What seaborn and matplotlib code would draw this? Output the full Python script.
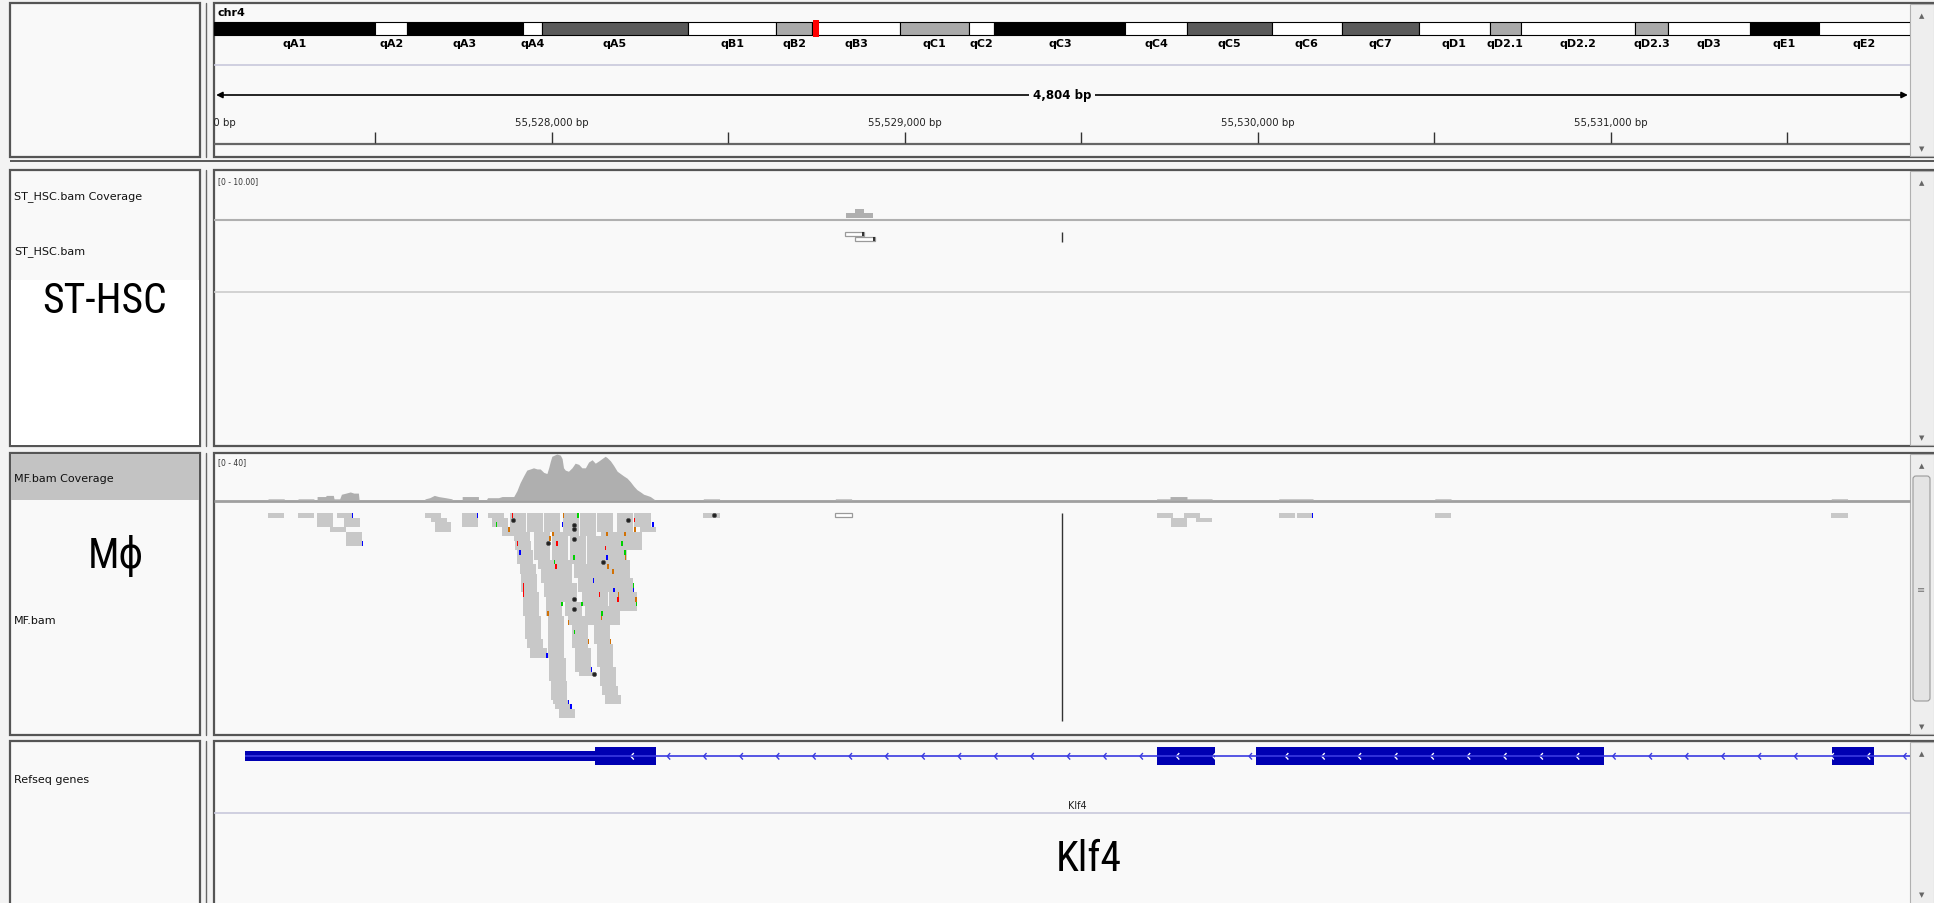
import numpy as np
import pandas as pd
import matplotlib
matplotlib.use("Agg")
import matplotlib.pyplot as plt
from matplotlib.patches import Rectangle, FancyBboxPatch
from matplotlib.path import Path
import seaborn as sns

sns.set_theme(style="white")
plt.rcParams["font.family"] = ["DejaVu Sans"]
plt.rcParams["text.color"] = "black"

W, H = 1934, 904

# visible locus chr4:55,527,044-55,531,848
view_start = 55527044
view_end = 55531848

# chr4 ideogram, band starts in Mb
band_names = ["qA1", "qA2", "qA3", "qA4", "qA5", "qB1", "qB2", "qB3", "qC1", "qC2", "qC3",
              "qC4", "qC5", "qC6", "qC7", "qD1", "qD2.1", "qD2.2", "qD2.3", "qD3", "qE1", "qE2"]
band_start = [0, 14.9, 17.8, 28.5, 30.3, 43.7, 51.9, 55.2, 63.3, 69.7, 72.0,
              84.1, 89.8, 97.6, 104.1, 111.2, 117.7, 120.6, 131.1, 134.2, 141.7, 148.1]
band_stain = ["black", "white", "black", "white", "dark", "white", "light", "white", "light", "white", "black",
              "white", "dark", "white", "dark", "white", "light", "white", "light", "white", "black", "white"]
chrom_len = 156.5

major_ticks = [55527000, 55528000, 55529000, 55530000, 55531000]
minor_ticks = [55527500, 55528500, 55529500, 55530500, 55531500]

# coverage tracks
st_cov_bp = [55528833, 55528833, 55528859, 55528859, 55528885, 55528885, 55528911, 55528911]
st_cov_depth = [0, 1, 1, 2, 2, 1, 1, 0]

mf_cov_bp = [55527197, 55527197, 55527243, 55527243,
             55527282, 55527282, 55527327, 55527327,
             55527336, 55527336, 55527360, 55527362, 55527382, 55527384, 55527400, 55527405,
             55527418, 55527430, 55527440, 55527453, 55527455,
             55527640, 55527642, 55527655, 55527668, 55527680, 55527700, 55527718, 55527720,
             55527747, 55527747, 55527793, 55527793,
             55527815, 55527819, 55527850, 55527860, 55527880,
             55527893, 55527902, 55527911, 55527921, 55527930, 55527940, 55527949, 55527959,
             55527968, 55527978, 55527987, 55527992, 55527997, 55528001, 55528008, 55528015,
             55528025, 55528030, 55528034, 55528039, 55528048, 55528058, 55528067, 55528077,
             55528086, 55528096, 55528105, 55528115, 55528124, 55528134, 55528143, 55528152,
             55528157, 55528167, 55528176, 55528186, 55528195, 55528204, 55528214, 55528223,
             55528233, 55528242, 55528252, 55528261, 55528271, 55528280, 55528289, 55528294,
             55528430, 55528430, 55528476, 55528476,
             55528804, 55528804, 55528850, 55528850,
             55529714, 55529714, 55529752, 55529752, 55529800, 55529800, 55529871, 55529871,
             55530060, 55530060, 55530157, 55530157,
             55530502, 55530502, 55530548, 55530548,
             55531625, 55531625, 55531671, 55531671]
mf_cov_depth = [0, 1, 1, 0,
                0, 1, 1, 0,
                0, 3, 3, 4, 4, 1, 1, 5,
                6, 7, 6, 6, 0,
                0, 1, 2, 4, 3, 2, 1, 0,
                0, 3, 3, 0,
                0, 2, 2, 3, 3,
                3, 8, 15, 21, 26, 27, 28, 27,
                27, 24, 23, 28, 34, 38, 39, 40,
                39, 36, 28, 26, 25, 28, 32, 31,
                28, 28, 33, 35, 32, 34, 36, 38,
                37, 34, 30, 25, 23, 21, 19, 16,
                12, 9, 7, 5, 4, 3, 1, 0,
                0, 1, 1, 0,
                0, 1, 1, 0,
                0, 1, 1, 3, 3, 1, 1, 0,
                0, 1, 1, 0,
                0, 1, 1, 0,
                0, 1, 1, 0]

# MF reads: blocks of stacked reads sharing a start (start bp, first row, number of rows)
mf_read_start = [55527197, 55527282, 55527336, 55527373, 55527393, 55527412, 55527418,
                 55527642, 55527659, 55527670, 55527747,
                 55527819, 55527831, 55527859,
                 55527883, 55527893, 55527897, 55527902, 55527910, 55527913, 55527918, 55527924, 55527930, 55527940,
                 55527930, 55527949, 55527963, 55527970, 55527978, 55527985, 55527990, 55527994, 55527998, 55528004, 55528011, 55528020,
                 55527978, 55528001, 55528011, 55528025, 55528039, 55528048, 55528058, 55528067, 55528079,
                 55528032, 55528051, 55528063, 55528074, 55528086, 55528096,
                 55528080, 55528100, 55528110, 55528115, 55528119, 55528129, 55528136, 55528143, 55528152,
                 55528129, 55528140, 55528150, 55528157, 55528162, 55528148,
                 55528185, 55528167, 55528176, 55528185, 55528195,
                 55528235, 55528250, 55528211,
                 55528430,
                 55529714, 55529754, 55529791, 55529825, 55530060, 55530111, 55530502, 55531625]
mf_read_row = [0, 0, 0, 3, 0, 1, 4,
               0, 1, 2, 0,
               0, 1, 3,
               0, 4, 6, 8, 11, 13, 17, 22, 27, 29,
               0, 4, 10, 12, 15, 18, 22, 31, 36, 40, 41, 42,
               0, 4, 10, 15, 19, 22, 24, 29, 34,
               0, 5, 11, 14, 17, 20,
               0, 5, 11, 14, 24, 28, 33, 37, 39,
               0, 4, 10, 13, 17, 20,
               0, 4, 10, 14, 17,
               0, 3, 4,
               0,
               0, 1, 0, 1, 0, 0, 0, 0]
mf_read_n = [1, 1, 3, 1, 1, 2, 3,
             1, 1, 2, 3,
             1, 2, 2,
             4, 2, 2, 3, 2, 4, 5, 5, 2, 2,
             4, 6, 2, 3, 3, 4, 9, 5, 4, 1, 1, 2,
             4, 6, 5, 4, 3, 2, 5, 5, 1,
             5, 6, 3, 3, 3, 4,
             5, 6, 3, 10, 4, 5, 4, 2, 2,
             4, 6, 3, 4, 3, 4,
             4, 6, 4, 3, 4,
             3, 1, 4,
             1,
             1, 2, 1, 1, 1, 1, 1, 1]
mf_read_len = 46
mf_mq0_start = [55528804]

st_read_start = [55528830, 55528861]
st_read_row = [0, 1]
st_read_len = 55

# mismatches on MF reads (bp, row, base) and insertion dots
mm_bp = [55527888, 55527843, 55527878, 55528032, 55528073, 55528029, 55528233, 55528286, 55528234,
         55528002, 55527994, 55528013, 55527902, 55527909, 55528198, 55528155, 55528206, 55528151,
         55528206, 55528207, 55528062, 55528155, 55528006, 55528011, 55528158, 55528172, 55528117,
         55527919, 55527919, 55527919, 55528231, 55528230, 55528175, 55528134, 55528188, 55528186,
         55528237, 55528239, 55528028, 55528084, 55527988, 55528141, 55528140, 55528046, 55528063,
         55528103, 55528165, 55527985, 55528111, 55528046, 55528053, 55527435, 55527462, 55527789,
         55530154]
mm_row = [0, 2, 3, 0, 0, 2, 1, 2, 3,
          4, 5, 6, 6, 8, 6, 4, 4, 7,
          8, 9, 9, 9, 10, 11, 11, 12, 14,
          15, 16, 17, 15, 16, 16, 17, 17, 18,
          18, 19, 19, 19, 21, 21, 22, 23, 25,
          27, 27, 30, 33, 40, 41, 0, 6, 0,
          0]
mm_base = ["T", "A", "G", "G", "A", "C", "T", "C", "G",
           "G", "G", "T", "T", "C", "A", "G", "G", "T",
           "A", "G", "A", "C", "A", "T", "G", "G", "C",
           "T", "T", "T", "A", "C", "C", "T", "G", "T",
           "G", "A", "A", "A", "G", "A", "G", "G", "A",
           "G", "G", "C", "C", "C", "C", "C", "C", "C",
           "C"]
ins_bp = [55527890, 55528064, 55528065, 55528064, 55527990, 55528216, 55528145, 55528063, 55528065, 55528119, 55528459]
ins_row = [1, 2, 3, 5, 6, 1, 10, 18, 20, 34, 0]

marker_bp = 55529445

# Refseq gene (minus strand)
gene_name = "Klf4"
gene_start, gene_end = 55527133, 55532466
utr_start, utr_end = 55527133, 55528123
exon_start = [55528123, 55529716, 55529996, 55531627]
exon_end = [55528296, 55529880, 55530982, 55531746]

base_colors = {"A": "#00d000", "C": "#0000ff", "G": "#d17105", "T": "#ff0000"}
stain_colors = {"black": "#000000", "white": "#ffffff", "dark": "#5a5a5a", "light": "#a9a9a9"}
bg = "#f9f9f9"

fig = plt.figure(figsize=(W / 100, H / 100), dpi=100)
fig.patch.set_facecolor("#f3f3f3")


def px_axes(x0, y0, x1, y1):
    ax = fig.add_axes([x0 / W, 1 - y1 / H, (x1 - x0) / W, (y1 - y0) / H])
    ax.set_axis_off()
    return ax


# ---- frame / panels ----
canvas = px_axes(0, 0, W, H)
canvas.set_xlim(0, W)
canvas.set_ylim(H, 0)

panels = [(4, 158), (171, 447), (454, 736), (742, 910)]
for y0, y1 in panels:
    canvas.add_patch(Rectangle((10, y0), 190, y1 - y0, fc=bg, ec="#555555", lw=1.6))
    canvas.add_patch(Rectangle((214, y0), 1722, y1 - y0, fc=bg, ec="#555555", lw=1.6))
    canvas.plot([206, 206], [y0, y1], color="#666666", lw=1)
    canvas.add_patch(Rectangle((1910, y0 + 1), 24, y1 - y0 - 2, fc="#eeeeee", ec="#b0b0b0", lw=0.8))
    canvas.text(1922, y0 + 12, "▲", ha="center", va="center", fontsize=5, color="#666666")
    canvas.text(1922, min(y1, 904) - 9, "▼", ha="center", va="center", fontsize=5, color="#666666")
canvas.hlines(161.5, 10, 1934, color="#555555", lw=1.4)

canvas.add_patch(Rectangle((11, 281), 188, 165, fc="white", ec="none"))
canvas.add_patch(Rectangle((11, 455), 188, 46, fc="#c3c3c3", ec="none"))
canvas.add_patch(FancyBboxPatch((1913, 477), 17, 225, boxstyle="round,pad=0,rounding_size=3",
                                fc="#e4e4e4", ec="#9a9a9a", lw=0.8))
canvas.text(1921.5, 590, "≡", ha="center", va="center", fontsize=7, color="#777777")

canvas.hlines(66, 214, 1910, color="#c8c8dc", lw=1.2)
canvas.hlines(145, 214, 1910, color="#666666", lw=1.6)
canvas.hlines(221, 214, 1910, color="#b0b0b0", lw=1.5)
canvas.hlines(293, 214, 1910, color="#cccccc", lw=1.2)
canvas.hlines(502, 214, 1910, color="#a0a0a0", lw=2)
canvas.hlines(814, 214, 1910, color="#c8c8dc", lw=1.2)

name_font = dict(fontsize=8, color="#111111", va="center")
canvas.text(14, 197, "ST_HSC.bam Coverage", **name_font)
canvas.text(14, 252, "ST_HSC.bam", **name_font)
canvas.text(14, 479, "MF.bam Coverage", **name_font)
canvas.text(14, 621, "MF.bam", **name_font)
canvas.text(14, 780, "Refseq genes", **name_font)
canvas.text(218, 182, "[0 - 10.00]", fontsize=5.5, color="#333333", va="center")
canvas.text(218, 463, "[0 - 40]", fontsize=5.5, color="#333333", va="center")
canvas.text(217, 13, "chr4", fontsize=8, fontweight="bold", va="center")

big_font = ["Roboto Condensed", "Roboto", "DejaVu Sans"]
big_kw = dict(ha="center", va="center", fontsize=30, family=big_font, color="black", fontstretch="condensed")
canvas.text(105, 302, "ST-HSC", **big_kw)
canvas.text(116, 556, "Mϕ", **big_kw)
canvas.text(1089, 860, "Klf4", **big_kw)

# ---- ideogram ----
ideo = px_axes(214, 16, 1910, 52)
ideo.set_xlim(0, chrom_len)
ideo.set_ylim(52, 16)
band_end = band_start[1:] + [chrom_len]
bands = pd.DataFrame({"name": band_names, "start": band_start, "end": band_end, "stain": band_stain})
ideo.bar(bands["start"], 13, width=bands["end"] - bands["start"], bottom=23, align="edge",
         color=[stain_colors[s] for s in bands["stain"]], edgecolor="black", linewidth=0.8)
for _, b in bands.iterrows():
    ideo.text((b["start"] + b["end"]) / 2, 44, b["name"], ha="center", va="center",
              fontsize=8, fontweight="bold", color="black")
locus_mb = (view_start + view_end) / 2 / 1e6
ideo.bar([locus_mb], 17, width=0.55, bottom=21, color="#ff0000", linewidth=0)

# ---- ruler ----
ruler = px_axes(214, 60, 1910, 146)
ruler.set_xlim(view_start, view_end)
ruler.set_ylim(146, 60)
ruler.annotate("", xy=(view_start + 6, 96), xytext=(view_end - 6, 96),
               arrowprops=dict(arrowstyle="<|-|>", color="black", lw=1.2, mutation_scale=9,
                               shrinkA=0, shrinkB=0))
ruler.text((view_start + view_end) / 2, 96, f"{view_end - view_start:,} bp", ha="center", va="center",
           fontsize=8.5, fontweight="bold", color="black", bbox=dict(fc=bg, ec="none", pad=3))
ruler.vlines(major_ticks + minor_ticks, 133, 144, color="#333333", lw=1)
for t in major_ticks:
    ruler.text(t, 123, f"{t:,} bp", ha="center", va="center", fontsize=7.3, color="#222222", clip_on=True)

# ---- ST_HSC tracks ----
st_cov = px_axes(214, 172, 1910, 219)
st_cov.set_xlim(view_start, view_end)
st_cov.set_ylim(0, 10)
st_cov.fill_between(st_cov_bp, st_cov_depth, color="#afafaf", lw=0)

st_reads = px_axes(214, 221, 1910, 293)
st_reads.set_xlim(view_start, view_end)
st_reads.set_ylim(12.06, -2.34)
st_reads.bar(st_read_start, 0.9, width=st_read_len, bottom=st_read_row, align="edge",
             color="white", edgecolor="#9a9a9a", linewidth=0.9)
st_reads.vlines([s + st_read_len - 2 for s in st_read_start], [r + 0.1 for r in st_read_row],
                [r + 0.9 for r in st_read_row], color="#222222", lw=1.3)
st_reads.vlines(marker_bp, 0, 2, color="#333333", lw=1)

# ---- MF tracks ----
mf_cov = px_axes(214, 455, 1910, 501)
mf_cov.set_xlim(view_start, view_end)
mf_cov.set_ylim(0, 40)
mf_cov.fill_between(mf_cov_bp, mf_cov_depth, color="#afafaf", lw=0)

blocks = pd.DataFrame({"start": mf_read_start, "row": mf_read_row, "n": mf_read_n})
reads = pd.DataFrame([(b.start, b.row + k) for b in blocks.itertuples() for k in range(b.n)],
                     columns=["start", "row"])
mf_reads = px_axes(214, 502, 1910, 736)
mf_reads.set_xlim(view_start, view_end)
mf_reads.set_ylim(47.54, -2.57)
mf_reads.bar(reads["start"], 1.0, width=mf_read_len, bottom=reads["row"], align="edge",
             color="#c8c8c8", linewidth=0)
mf_reads.bar(mf_mq0_start, 0.9, width=mf_read_len, bottom=0.05, align="edge",
             color="white", edgecolor="#9a9a9a", linewidth=0.9)
mm = pd.DataFrame({"bp": mm_bp, "row": mm_row, "base": mm_base})
mf_reads.bar(mm["bp"], 1.0, width=4, bottom=mm["row"], align="edge",
             color=[base_colors[b] for b in mm["base"]], linewidth=0)
sns.scatterplot(x=ins_bp, y=[r + 0.5 for r in ins_row], ax=mf_reads, color="#222222", s=9,
                edgecolor="#555555", linewidth=0.5, legend=False)
mf_reads.set_axis_off()
mf_reads.vlines(marker_bp, 0, 44.5, color="#333333", lw=1)

# ---- Refseq genes ----
gene_ax = px_axes(214, 742, 1910, 814)
gene_ax.set_xlim(view_start, view_end)
gene_ax.set_ylim(814, 742)
gene_blue = "#0000b2"
gene_ax.hlines(757.3, gene_start, gene_end, color="#3a3ae0", lw=1.2)
gene_ax.bar([utr_start], 10.6, width=utr_end - utr_start, bottom=751.7, align="edge",
            color=gene_blue, linewidth=0)
gene_ax.bar(exon_start, 17.4, width=np.subtract(exon_end, exon_start), bottom=748.3, align="edge",
            color=gene_blue, linewidth=0)
chevron = Path([(0.45, 1), (-0.45, 0), (0.45, -1)], [Path.MOVETO, Path.LINETO, Path.LINETO])
chev_x = np.arange(55528229, view_end, 103)
in_exon = np.zeros(len(chev_x), bool)
for s, e in zip(exon_start, exon_end):
    in_exon |= (chev_x > s) & (chev_x < e)
gene_ax.scatter(chev_x[~in_exon], np.full((~in_exon).sum(), 757.3), marker=chevron, s=22,
                facecolors="none", edgecolors="#3a3ae0", linewidths=1)
gene_ax.scatter(chev_x[in_exon], np.full(in_exon.sum(), 757.3), marker=chevron, s=22,
                facecolors="none", edgecolors="white", linewidths=1)
gene_ax.text((max(gene_start, view_start) + view_end) / 2, 806, gene_name, ha="center", va="center",
             fontsize=7, color="#222222")

fig.savefig("out.png", dpi=100, facecolor=fig.get_facecolor())
